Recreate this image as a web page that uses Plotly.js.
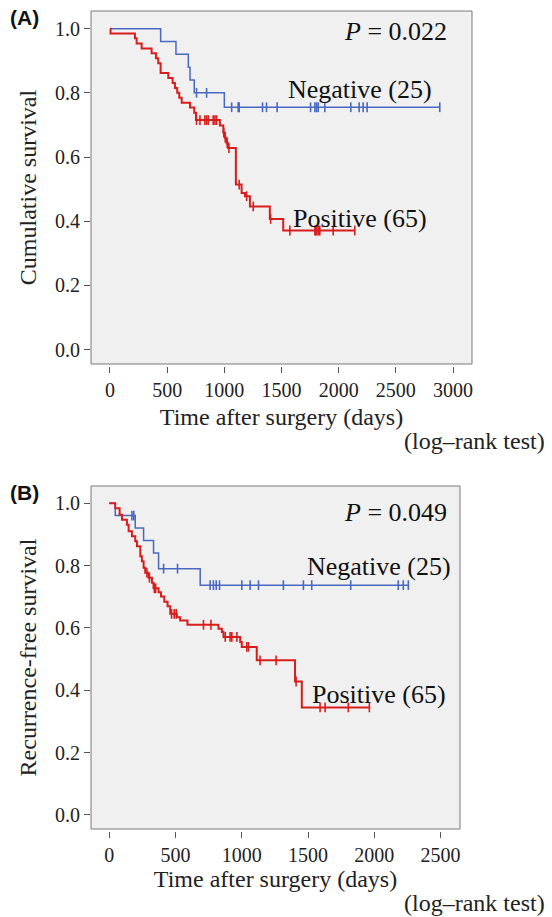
<!DOCTYPE html>
<html>
<head>
<meta charset="utf-8">
<script src="https://cdn.plot.ly/plotly-3.0.1.min.js"></script>
<style>html,body{margin:0;padding:0;background:#fff;}#chart{width:552px;height:917px;}</style>
</head>
<body>
<div id="chart"></div>
<script>
// ---------- Panel A: overall survival ----------
const aNegTimes = [0, 443, 577, 685, 700, 737, 1000, 2884];
const aNegSurv  = [1.0, 0.96, 0.92, 0.88, 0.84, 0.80, 0.755, 0.755];
const aNegCensor = [757, 845, 1064, 1121, 1130, 1334, 1369, 1462, 1754, 1792, 1807, 1821, 1879, 2106, 2179, 2214, 2249, 2884];

const aPosTimes = [0, 5, 218, 233, 277, 364, 402, 422, 443, 510, 548, 568, 588, 606, 627, 700, 737, 752, 961, 991, 1005, 1020, 1034, 1101, 1151, 1180, 1224, 1398, 1515, 2141];
const aPosSurv  = [1.0, 0.985, 0.97, 0.954, 0.938, 0.923, 0.908, 0.892, 0.862, 0.846, 0.831, 0.815, 0.80, 0.785, 0.769, 0.754, 0.738, 0.715, 0.698, 0.676, 0.66, 0.643, 0.628, 0.514, 0.488, 0.478, 0.446, 0.407, 0.371, 0.371];
const aPosCensor = [757, 787, 830, 845, 859, 903, 918, 932, 995, 1008, 1025, 1040, 1130, 1195, 1253, 1405, 1573, 1792, 1800, 1807, 1821, 1835, 1952, 2141];

// ---------- Panel B: recurrence-free survival ----------
const bNegTimes = [0, 45, 196, 259, 334, 372, 686, 2257];
const bNegSurv  = [1.0, 0.96, 0.92, 0.88, 0.84, 0.79, 0.737, 0.737];
const bNegCensor = [171, 185, 410, 515, 761, 786, 807, 832, 1000, 1063, 1126, 1314, 1465, 1528, 1822, 2181, 2219, 2257];

const bPosTimes = [0, 45, 78, 96, 133, 146, 171, 196, 209, 234, 246, 259, 271, 296, 322, 334, 372, 390, 415, 440, 460, 510, 535, 590, 824, 850, 862, 988, 1000, 1113, 1402, 1453, 1968];
const bPosSurv  = [1.0, 0.984, 0.963, 0.947, 0.931, 0.91, 0.894, 0.878, 0.862, 0.83, 0.814, 0.793, 0.777, 0.761, 0.745, 0.727, 0.714, 0.701, 0.684, 0.669, 0.645, 0.634, 0.624, 0.61, 0.597, 0.587, 0.571, 0.555, 0.539, 0.496, 0.428, 0.345, 0.345];
const bPosCensor = [284, 303, 340, 350, 470, 490, 505, 711, 767, 875, 912, 925, 963, 1038, 1050, 1138, 1259, 1410, 1591, 1629, 1804, 1963];

const xTicksA = [0, 500, 1000, 1500, 2000, 2500, 3000];
const xTicksB = [0, 500, 1000, 1500, 2000, 2500];
const yTicks = [0, 0.2, 0.4, 0.6, 0.8, 1.0];
const yTickText = ['0.0', '0.2', '0.4', '0.6', '0.8', '1.0'];

const groupNames = ['Negative (25)', 'Positive (65)'];
const pValues = ['0.022', '0.049'];
const yTitles = ['Cumulative survival', 'Recurrence-free survival'];
const xTitle = 'Time after surgery (days)';

// ---------- helpers ----------
function survAt(times, surv, t) {
  let s = surv[0];
  for (let i = 0; i < times.length; i++) { if (times[i] <= t) s = surv[i]; }
  return s;
}
const BLUE = '#4a68c0', RED = '#d91c1c';
function curve(times, surv, color, width, xa, ya, name) {
  return {x: times, y: surv, type: 'scatter', mode: 'lines', line: {shape: 'hv', color: color, width: width},
          xaxis: xa, yaxis: ya, name: name, showlegend: false, hoverinfo: 'skip'};
}
function censor(times, surv, ctimes, color, xa, ya, name) {
  return {x: ctimes, y: ctimes.map(t => survAt(times, surv, t)), type: 'scatter', mode: 'markers',
          marker: {symbol: 'line-ns-open', size: 7, color: color, line: {color: color, width: 1.6}},
          xaxis: xa, yaxis: ya, name: name + ' censored', showlegend: false, hoverinfo: 'skip'};
}

const data = [
  curve(aNegTimes, aNegSurv, BLUE, 1.5, 'x', 'y', groupNames[0]),
  censor(aNegTimes, aNegSurv, aNegCensor, BLUE, 'x', 'y', groupNames[0]),
  curve(aPosTimes, aPosSurv, RED, 2, 'x', 'y', groupNames[1]),
  censor(aPosTimes, aPosSurv, aPosCensor, RED, 'x', 'y', groupNames[1]),
  curve(bNegTimes, bNegSurv, BLUE, 1.5, 'x2', 'y2', groupNames[0]),
  censor(bNegTimes, bNegSurv, bNegCensor, BLUE, 'x2', 'y2', groupNames[0]),
  curve(bPosTimes, bPosSurv, RED, 2, 'x2', 'y2', groupNames[1]),
  censor(bPosTimes, bPosSurv, bPosCensor, RED, 'x2', 'y2', groupNames[1])
];

const W = 552, H = 917;
const px = v => v / W, py = v => 1 - v / H;
const serif = 'Liberation Serif, Times New Roman, serif';
const tickFont = {family: serif, size: 20, color: '#222'};
const titleFont = {family: serif, size: 24, color: '#222'};
const annFont = {family: serif, size: 26, color: '#111'};

function xAxis(domain, range, ticks, pos, standoff) {
  return {domain: domain, range: range, anchor: 'free', position: pos, tickvals: ticks,
          ticks: 'outside', ticklen: 6, tickwidth: 1, tickcolor: '#555', showline: false, showgrid: false,
          zeroline: false, tickfont: tickFont, title: {text: xTitle, font: titleFont, standoff: standoff}, fixedrange: true};
}
function yAxis(domain, anchor, title) {
  return {domain: domain, range: [-0.045, 1.055], anchor: anchor, tickvals: yTicks, ticktext: yTickText,
          ticks: 'outside', ticklen: 6, tickwidth: 1, tickcolor: '#555', showline: false, showgrid: false,
          zeroline: false, tickfont: tickFont, title: {text: title, font: titleFont, standoff: 11}, fixedrange: true};
}
function box(xr, yr) {
  return {type: 'rect', xref: xr + ' domain', yref: yr + ' domain', x0: 0, x1: 1, y0: 0, y1: 1,
          fillcolor: '#f0f0f0', line: {color: '#7a7a7a', width: 1}, layer: 'below'};
}
function ann(text, x, y, xanchor, font) {
  return {text: text, xref: 'paper', yref: 'paper', x: x, y: y, xanchor: xanchor, yanchor: 'middle',
          showarrow: false, font: font, borderpad: 0};
}
const labelFont = {family: 'Liberation Sans, Arial, sans-serif', size: 21, color: '#111'};

const layout = {
  width: W, height: H, autosize: false,
  margin: {l: 0, r: 0, t: 0, b: 0},
  paper_bgcolor: '#ffffff', plot_bgcolor: 'rgba(0,0,0,0)',
  showlegend: false,
  xaxis: xAxis([px(91), px(472)], [-166, 3166], xTicksA, py(366), 8),
  yaxis: yAxis([py(364), py(11)], 'x', yTitles[0]),
  xaxis2: xAxis([px(91), px(460)], [-138, 2647], xTicksB, py(831), 5),
  yaxis2: yAxis([py(829), py(486)], 'x2', yTitles[1]),
  shapes: [box('x', 'y'), box('x2', 'y2')],
  annotations: [
    ann('<b>(A)</b>', px(9), py(18), 'left', labelFont),
    ann('<b>(B)</b>', px(9), py(493), 'left', labelFont),
    ann('<i>P</i> = ' + pValues[0], px(448), py(32), 'right', annFont),
    ann('<i>P</i> = ' + pValues[1], px(448), py(512), 'right', annFont),
    ann(groupNames[0], px(433), py(90), 'right', annFont),
    ann(groupNames[1], px(428), py(218), 'right', annFont),
    ann(groupNames[0], px(452), py(566), 'right', annFont),
    ann(groupNames[1], px(447), py(694), 'right', annFont),
    ann('(log–rank test)', px(546), py(441), 'right', titleFont),
    ann('(log–rank test)', px(546), py(903), 'right', titleFont)
  ]
};

Plotly.newPlot('chart', data, layout, {staticPlot: true, displayModeBar: false});
</script>
</body>
</html>
